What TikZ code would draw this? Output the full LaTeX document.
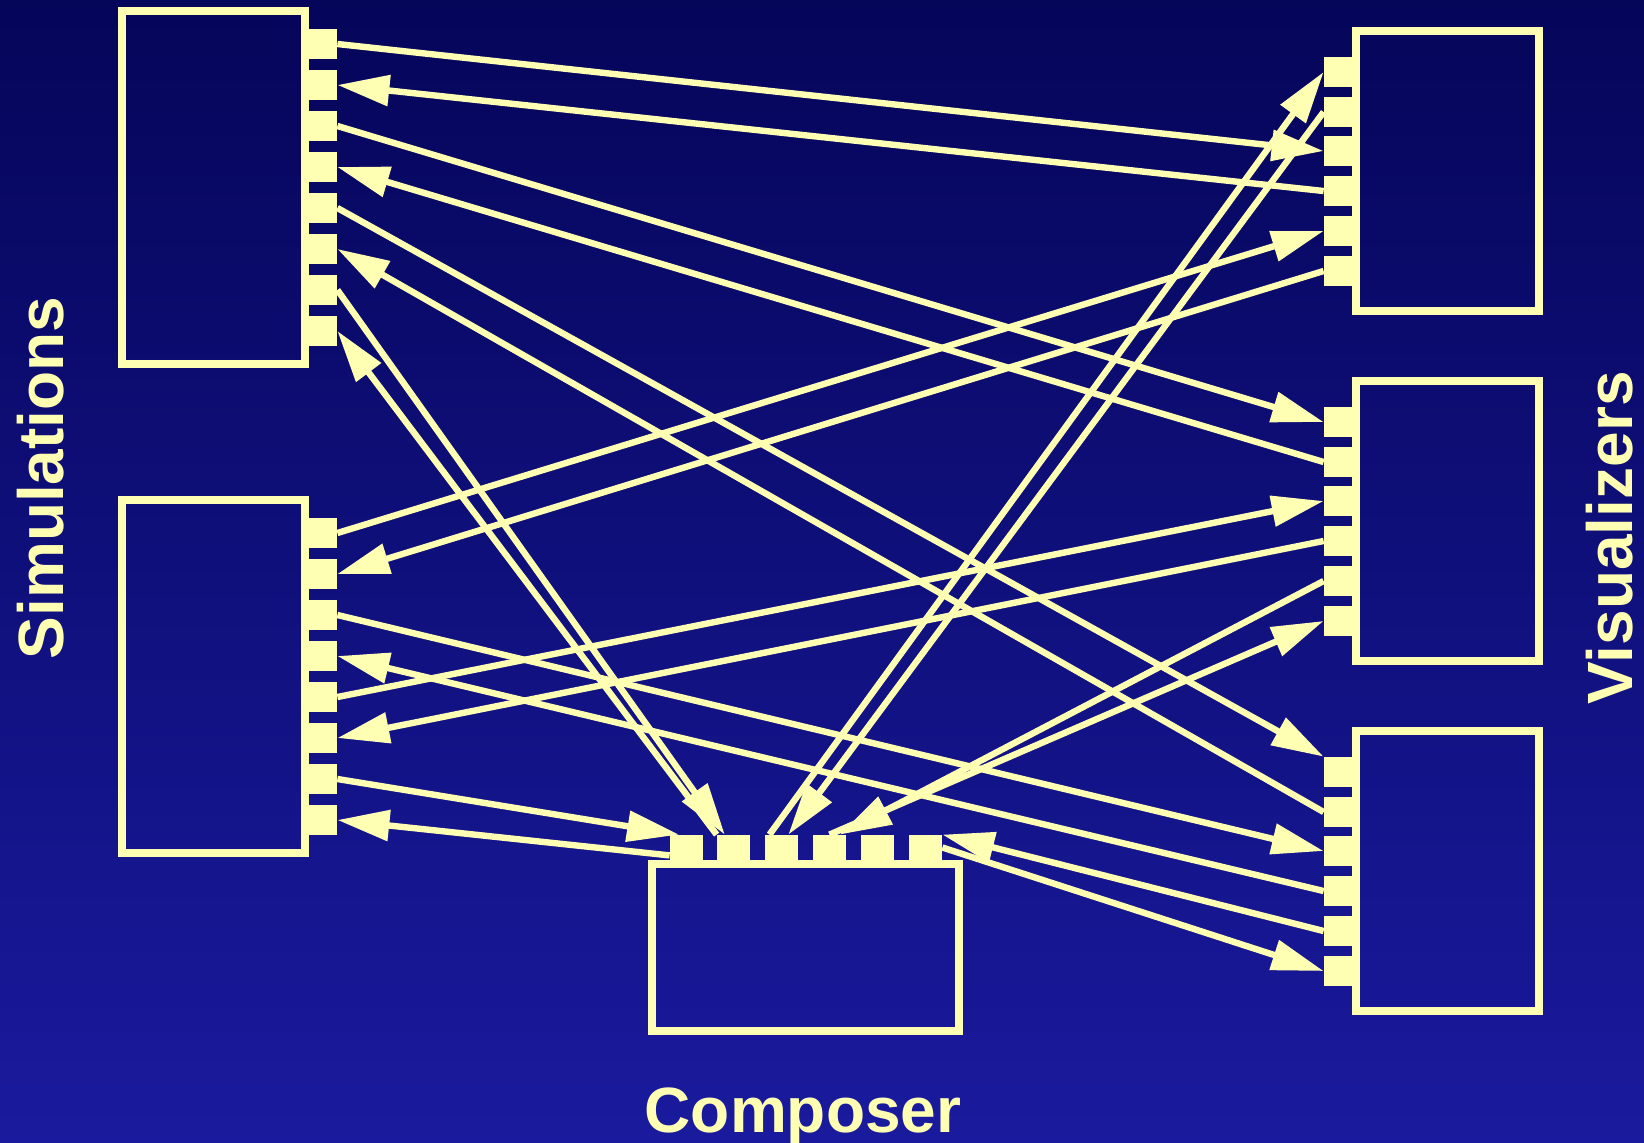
\documentclass[tikz,border=0pt]{standalone}
\usepackage{fontspec}
\setmainfont{Liberation Sans}
\usetikzlibrary{arrows.meta, positioning}
\definecolor{paleyellow}{HTML}{FFFFB4}
\definecolor{navytop}{HTML}{05055A}
\definecolor{navybottom}{HTML}{1A1A9E}

\begin{document}
\begin{tikzpicture}[x=0.5pt, y=-0.5pt,
        box/.style={rectangle, draw=paleyellow, line width=4pt, inner sep=0pt},
        port/.style={rectangle, fill=paleyellow, inner sep=0pt, minimum width=14pt, minimum height=15pt},
        cport/.style={port, minimum width=16.5pt, minimum height=12.5pt},
        line/.style={draw=paleyellow, line width=3.2pt, -{Triangle[length=26pt, width=15pt]}},
        title/.style={text=paleyellow, inner sep=0pt, font=\fontsize{32}{38}\selectfont\bfseries}]

        % Background
        \fill[top color=navytop, bottom color=navybottom] (0,0) rectangle (1644,1142);
        \useasboundingbox (0,0) rectangle (1644,1142);

        % Simulations
        \node [box, minimum width=91.35pt, minimum height=176.65pt] (sim1) at (213.7,187.3) {};
        \node [box, minimum width=91.35pt, minimum height=176.65pt] (sim2) at (213.5,676.3) {};

        % Visualizers
        \node [box, minimum width=91.2pt, minimum height=140.3pt] (vis1) at (1447.5,171) {};
        \node [box, minimum width=91.2pt, minimum height=140.3pt] (vis2) at (1447.5,520.8) {};
        \node [box, minimum width=91.2pt, minimum height=140.3pt] (vis3) at (1447.5,870.8) {};

        % Composer
        \node [box, minimum width=153.5pt, minimum height=83.5pt] (comp) at (805.8,947.8) {};

        % Ports
        \foreach \y [count=\i] in {44,85,126,167,208,249,290,331}
            \node [port] (s1p\i) at (323,\y) {};
        \foreach \y [count=\i] in {533,574,615,656,697,738,779,820}
            \node [port] (s2p\i) at (323,\y) {};
        \foreach \y [count=\i] in {72,112,151,191,231,271}
            \node [port] (v1p\i) at (1338,\y) {};
        \foreach \y [count=\i] in {422,462,501,541,581,621}
            \node [port] (v2p\i) at (1338,\y) {};
        \foreach \y [count=\i] in {772,812,851,891,931,971}
            \node [port] (v3p\i) at (1338,\y) {};
        \foreach \x [count=\i] in {686.5,733.5,781.5,829.5,877.5,925.5}
            \node [cport] (c\i) at (\x,847.5) {};

        % Connections from the first simulation
        \path [line] (s1p1.east) -- (v1p3.west);
        \path [line] (v1p4.west) -- (s1p2.east);
        \path [line] (s1p3.east) -- (v2p1.west);
        \path [line] (v2p2.west) -- (s1p4.east);
        \path [line] (s1p5.east) -- (v3p1.north west);
        \path [line] (v3p2.west) -- (s1p6.east);
        \path [line] (s1p7.east) -- (c2.124);
        \path [line] (c2.north west) -- (s1p8.east);

        % Connections from the second simulation
        \path [line] (s2p1.east) -- (v1p5.west);
        \path [line] (v1p6.west) -- (s2p2.east);
        \path [line] (s2p3.east) -- (v3p3.west);
        \path [line] (v3p4.west) -- (s2p4.east);
        \path [line] (s2p5.east) -- (v2p3.west);
        \path [line] (v2p4.west) -- (s2p6.east);
        \path [line] (s2p7.east) -- (c1.120);
        \path [line] (c1.205) -- (s2p8.east);

        % Composer to visualizers
        \path [line] (c3.133) -- (v1p1.west);
        \path [line] (v1p2.west) -- (c3.62);
        \path [line] (v2p5.west) -- (c4.52);
        \path [line] (c4.north) -- (v2p6.west);
        \path [line] (v3p5.west) -- (c6.north east);
        \path [line] (c6.east) -- (v3p6.west);

        % Titles
        \node [title, rotate=90] (simtitle) at (41,478) {Simulations};
        \node [title, rotate=90] (vistitle) at (1610,538) {Visualizers};
        \node [title, anchor=base] (comptitle) at (803,1132) {Composer};

    \end{tikzpicture}
\end{document}
